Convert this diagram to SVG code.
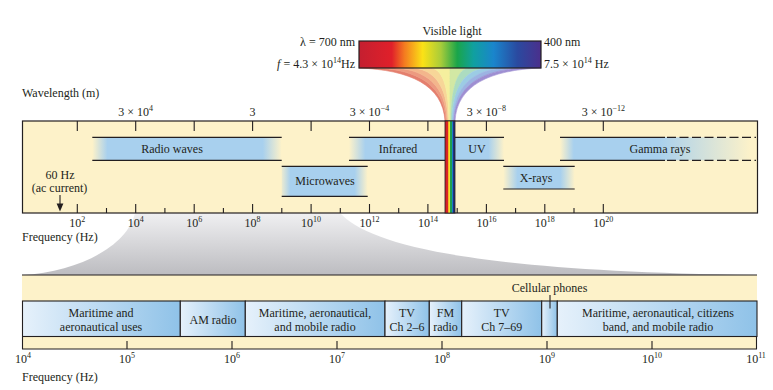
<svg xmlns="http://www.w3.org/2000/svg" width="773" height="390" viewBox="0 0 773 390">
<style>
text{font-family:"Liberation Serif","Times New Roman",serif;font-size:12px;fill:#231f20}
.m{text-anchor:middle}
.e{text-anchor:end}
.sup{font-size:8px}
.ln{stroke:#231f20;stroke-width:1.2;fill:none}
.tk{stroke:#231f20;stroke-width:1.1;fill:none}
.cream{fill:#fdf2c9}
.box{fill:url(#gBox);stroke:#231f20;stroke-width:1.1}
.fan path{stroke-width:0.6}
</style>
<defs>
<linearGradient id="gWedge" x1="0" y1="0" x2="0" y2="1">
<stop offset="0" stop-color="#f0f0f2"/><stop offset="1" stop-color="#bcbcc0"/>
</linearGradient>
<linearGradient id="gVis" x1="0" y1="0" x2="1" y2="0">
<stop offset="0" stop-color="#c41f30"/><stop offset="0.18" stop-color="#e0202a"/>
<stop offset="0.25" stop-color="#f47b20"/><stop offset="0.35" stop-color="#fbe216"/>
<stop offset="0.45" stop-color="#a8cc3a"/><stop offset="0.54" stop-color="#1aa54a"/>
<stop offset="0.63" stop-color="#10a0a0"/><stop offset="0.74" stop-color="#1a85cc"/>
<stop offset="0.87" stop-color="#2a4aa0"/><stop offset="1" stop-color="#4b2f8c"/>
</linearGradient>
<linearGradient id="gStrip" x1="0" y1="0" x2="1" y2="0">
<stop offset="0" stop-color="#c81e2a"/><stop offset="0.3" stop-color="#e02424"/>
<stop offset="0.3" stop-color="#f0a020"/><stop offset="0.45" stop-color="#f5e030"/>
<stop offset="0.47" stop-color="#20a050"/><stop offset="0.65" stop-color="#20a050"/>
<stop offset="0.67" stop-color="#1a7cc8"/><stop offset="0.82" stop-color="#1a7cc8"/>
<stop offset="0.84" stop-color="#23307a"/><stop offset="1" stop-color="#23307a"/>
</linearGradient>
<linearGradient id="gRadio" x1="0" y1="0" x2="1" y2="0">
<stop offset="0" stop-color="#a8d0ee" stop-opacity="0"/><stop offset="0.08" stop-color="#a8d0ee"/>
<stop offset="0.9" stop-color="#a8d0ee"/><stop offset="1" stop-color="#a8d0ee" stop-opacity="0"/>
</linearGradient>
<linearGradient id="gMicro" x1="0" y1="0" x2="1" y2="0">
<stop offset="0" stop-color="#a8d0ee" stop-opacity="0.2"/><stop offset="0.1" stop-color="#a8d0ee"/>
<stop offset="0.85" stop-color="#a8d0ee"/><stop offset="1" stop-color="#a8d0ee" stop-opacity="0"/>
</linearGradient>
<linearGradient id="gIR" x1="0" y1="0" x2="1" y2="0">
<stop offset="0" stop-color="#a8d0ee" stop-opacity="0"/><stop offset="0.17" stop-color="#a8d0ee"/>
<stop offset="1" stop-color="#a8d0ee"/>
</linearGradient>
<linearGradient id="gUV" x1="0" y1="0" x2="1" y2="0">
<stop offset="0" stop-color="#a8d0ee"/><stop offset="0.68" stop-color="#a8d0ee"/>
<stop offset="1" stop-color="#a8d0ee" stop-opacity="0"/>
</linearGradient>
<linearGradient id="gX" x1="0" y1="0" x2="1" y2="0">
<stop offset="0" stop-color="#a8d0ee" stop-opacity="0"/><stop offset="0.2" stop-color="#a8d0ee"/>
<stop offset="0.8" stop-color="#a8d0ee"/><stop offset="1" stop-color="#a8d0ee" stop-opacity="0"/>
</linearGradient>
<linearGradient id="gGamma" x1="0" y1="0" x2="1" y2="0">
<stop offset="0" stop-color="#a8d0ee" stop-opacity="0"/><stop offset="0.07" stop-color="#a8d0ee"/>
<stop offset="0.5" stop-color="#a8d0ee"/><stop offset="0.97" stop-color="#a8d0ee" stop-opacity="0"/>
</linearGradient>
<linearGradient id="gBox" x1="0" y1="0" x2="1" y2="0">
<stop offset="0" stop-color="#e6f1fb"/><stop offset="1" stop-color="#8fc2e8"/>
</linearGradient>
</defs>

<rect width="773" height="390" fill="#ffffff"/>

<!-- gray wedge -->
<path id="wedge" d="M135,213 C128,245 80,272 22,275 L757,275 C470,271 370,245 340,213 Z" fill="url(#gWedge)"/>

<!-- visible light -->
<g id="visible">
<text class="m" x="452" y="34.5">Visible light</text>
<text class="e" x="355" y="45.5">λ = 700 nm</text>
<text class="e" x="355" y="68"><tspan font-style="italic">f</tspan> = 4.3 × 10<tspan class="sup" dy="-5">14</tspan><tspan dy="5">Hz</tspan></text>
<text x="544" y="45.5">400 nm</text>
<text x="544" y="68">7.5 × 10<tspan class="sup" dy="-5">14</tspan><tspan dy="5"> Hz</tspan></text>
<g class="fan">
<path fill="#e47f6e" stroke="#e47f6e" d="M359,68 C410,70 443,85 445,121 L446,121 C444.4,85 418,70 377.2,68 Z"/>
<path fill="#ec9a80" stroke="#ec9a80" d="M377.2,68 C418,70 444.4,85 446,121 L447,121 C445.8,85 426,70 395.4,68 Z"/>
<path fill="#f3b68c" stroke="#f3b68c" d="M395.4,68 C426,70 445.8,85 447,121 L448,121 C447.2,85 434,70 413.6,68 Z"/>
<path fill="#f7d698" stroke="#f7d698" d="M413.6,68 C434,70 447.2,85 448,121 L449,121 C448.6,85 442,70 431.8,68 Z"/>
<path fill="#f5ef9e" stroke="#f5ef9e" d="M431.8,68 C442,70 448.6,85 449,121 L450,121 C450,85 450,70 450,68 Z"/>
<path fill="#d2e8a4" stroke="#d2e8a4" d="M450,68 C450,70 450,85 450,121 L451,121 C451.4,85 458,70 468.2,68 Z"/>
<path fill="#acdcc0" stroke="#acdcc0" d="M468.2,68 C458,70 451.4,85 451,121 L452,121 C452.8,85 466,70 486.4,68 Z"/>
<path fill="#9ccce4" stroke="#9ccce4" d="M486.4,68 C466,70 452.8,85 452,121 L453,121 C454.2,85 474,70 504.6,68 Z"/>
<path fill="#9cb4e2" stroke="#9cb4e2" d="M504.6,68 C474,70 454.2,85 453,121 L454,121 C455.6,85 482,70 522.8,68 Z"/>
<path fill="#9e8fd2" stroke="#9e8fd2" d="M522.8,68 C482,70 455.6,85 454,121 L455,121 C457,85 490,70 541,68 Z"/>
</g>
<rect x="359" y="41" width="182" height="27" fill="url(#gVis)" stroke="#231f20" stroke-width="1.2"/>
</g>

<!-- top spectrum -->
<g id="spectrum">
<text x="22" y="97">Wavelength (m)</text>
<rect x="22.5" y="121" width="735" height="92" class="cream" stroke="#231f20" stroke-width="1.2"/>
<path class="tk" d="M77.3,121v10M135.7,121v10M194.2,121v10M252.6,121v10M311.1,121v10M369.5,121v10M427.9,121v10M486.4,121v10M544.8,121v10M603.3,121v10"/>
<path class="tk" d="M77.3,213v-9M135.7,213v-9M194.2,213v-9M252.6,213v-9M311.1,213v-9M369.5,213v-9M427.9,213v-9M486.4,213v-9M544.8,213v-9M603.3,213v-9"/>
<path class="tk" d="M106.5,213v-5M164.9,213v-5M223.4,213v-5M281.8,213v-5M340.3,213v-5M398.7,213v-5M457.2,213v-5M515.6,213v-5M574,213v-5"/>
<text class="m" x="135.7" y="116">3 × 10<tspan class="sup" dy="-5">4</tspan></text>
<text class="m" x="252.6" y="116">3</text>
<text class="m" x="369.5" y="116">3 × 10<tspan class="sup" dy="-5">−4</tspan></text>
<text class="m" x="486.4" y="116">3 × 10<tspan class="sup" dy="-5">−8</tspan></text>
<text class="m" x="603.3" y="116">3 × 10<tspan class="sup" dy="-5">−12</tspan></text>
<text class="m" x="77.3" y="226.5">10<tspan class="sup" dy="-5">2</tspan></text>
<text class="m" x="135.7" y="226.5">10<tspan class="sup" dy="-5">4</tspan></text>
<text class="m" x="194.2" y="226.5">10<tspan class="sup" dy="-5">6</tspan></text>
<text class="m" x="252.6" y="226.5">10<tspan class="sup" dy="-5">8</tspan></text>
<text class="m" x="311.1" y="226.5">10<tspan class="sup" dy="-5">10</tspan></text>
<text class="m" x="369.5" y="226.5">10<tspan class="sup" dy="-5">12</tspan></text>
<text class="m" x="427.9" y="226.5">10<tspan class="sup" dy="-5">14</tspan></text>
<text class="m" x="486.4" y="226.5">10<tspan class="sup" dy="-5">16</tspan></text>
<text class="m" x="544.8" y="226.5">10<tspan class="sup" dy="-5">18</tspan></text>
<text class="m" x="603.3" y="226.5">10<tspan class="sup" dy="-5">20</tspan></text>
<text x="22" y="240.5">Frequency (Hz)</text>
</g>

<g id="radio">
<rect x="92.3" y="137.3" width="189.4" height="23" fill="url(#gRadio)"/>
<path class="ln" d="M92.3,137.3H281.7M92.3,160.3H281.7"/>
<text class="m" x="172" y="152.5">Radio waves</text>
</g>
<g id="microwaves">
<rect x="281.7" y="166.3" width="86" height="30" fill="url(#gMicro)"/>
<path class="ln" d="M281.7,166.3H367.7M281.7,196.3H367.7"/>
<text class="m" x="325" y="185">Microwaves</text>
</g>
<g id="infrared">
<rect x="349" y="137.3" width="96" height="23" fill="url(#gIR)"/>
<path class="ln" d="M349,137.3H445M349,160.3H445"/>
<text class="m" x="398" y="152.5">Infrared</text>
</g>
<g id="uv">
<rect x="455" y="137.3" width="49" height="23" fill="url(#gUV)"/>
<path class="ln" d="M455,137.3H504M455,160.3H504"/>
<text class="m" x="477" y="152.5">UV</text>
</g>
<g id="xrays">
<rect x="503.3" y="166.3" width="71.4" height="22.7" fill="url(#gX)"/>
<path class="ln" d="M503.3,166.3H574.7M503.3,189H574.7"/>
<text class="m" x="536" y="181.5">X-rays</text>
</g>
<g id="gamma">
<rect x="560" y="137.3" width="197" height="23" fill="url(#gGamma)"/>
<path class="ln" d="M560,137.3H665M560,160.3H665"/>
<path class="ln" stroke-dasharray="9,3.5" d="M667,137.3H756M667,160.3H756"/>
<text class="m" x="660" y="152.5">Gamma rays</text>
</g>
<g id="visstrip">
<rect x="445" y="121" width="10" height="92" fill="url(#gStrip)" stroke="#231f20" stroke-width="0.8"/>
</g>
<g id="ac">
<text class="m" x="60" y="178.5">60 Hz</text>
<text class="m" x="59.5" y="191.5">(ac current)</text>
<path class="tk" d="M60,195V205"/>
<path d="M56.6,203.5H63.4L60,211.5Z" fill="#231f20"/>
</g>

<!-- bottom expanded bar -->
<g id="bottombar">
<rect x="22" y="275" width="735" height="26" class="cream"/>
<rect x="22" y="336.5" width="735" height="12.5" class="cream"/>
<path class="ln" d="M22,275H757M22,349H757"/>
<path class="tk" d="M22.5,336.5V349M756.5,336.5V349M127,341V349M232,341V349M337,341V349M442,341V349M547,341V349M652,341V349"/>
<text class="m" x="23" y="363">10<tspan class="sup" dy="-5">4</tspan></text>
<text class="m" x="127" y="363">10<tspan class="sup" dy="-5">5</tspan></text>
<text class="m" x="232" y="363">10<tspan class="sup" dy="-5">6</tspan></text>
<text class="m" x="337" y="363">10<tspan class="sup" dy="-5">7</tspan></text>
<text class="m" x="442" y="363">10<tspan class="sup" dy="-5">8</tspan></text>
<text class="m" x="547" y="363">10<tspan class="sup" dy="-5">9</tspan></text>
<text class="m" x="652" y="363">10<tspan class="sup" dy="-5">10</tspan></text>
<text class="m" x="756" y="363">10<tspan class="sup" dy="-5">11</tspan></text>
<text x="22" y="380.5">Frequency (Hz)</text>
</g>
<g id="maritime1">
<rect class="box" x="22.5" y="301" width="157.8" height="35.5"/>
<text class="m" x="101" y="316.5">Maritime and</text>
<text class="m" x="101" y="330.5">aeronautical uses</text>
</g>
<g id="am">
<rect class="box" x="180.3" y="301" width="65" height="35.5"/>
<text class="m" x="213" y="323.5">AM radio</text>
</g>
<g id="maritime2">
<rect class="box" x="245.3" y="301" width="139.7" height="35.5"/>
<text class="m" x="315" y="316.5">Maritime, aeronautical,</text>
<text class="m" x="315" y="330.5">and mobile radio</text>
</g>
<g id="tv1">
<rect class="box" x="385" y="301" width="44.3" height="35.5"/>
<text class="m" x="407" y="316.5">TV</text>
<text class="m" x="407" y="330.5">Ch 2–6</text>
</g>
<g id="fm">
<rect class="box" x="429.3" y="301" width="32.4" height="35.5"/>
<text class="m" x="445.5" y="316.5">FM</text>
<text class="m" x="445.5" y="330.5">radio</text>
</g>
<g id="tv2">
<rect class="box" x="461.7" y="301" width="80" height="35.5"/>
<text class="m" x="501.7" y="316.5">TV</text>
<text class="m" x="501.7" y="330.5">Ch 7–69</text>
</g>
<g id="cellular">
<rect class="box" x="541.7" y="301" width="15.6" height="35.5"/>
<text class="m" x="549.5" y="291.5">Cellular phones</text>
<path class="tk" d="M550,295V308.5"/>
</g>
<g id="maritime3">
<rect class="box" x="557.3" y="301" width="199.7" height="35.5"/>
<text class="m" x="658" y="316.5">Maritime, aeronautical, citizens</text>
<text class="m" x="658" y="330.5">band, and mobile radio</text>
</g>
</svg>
